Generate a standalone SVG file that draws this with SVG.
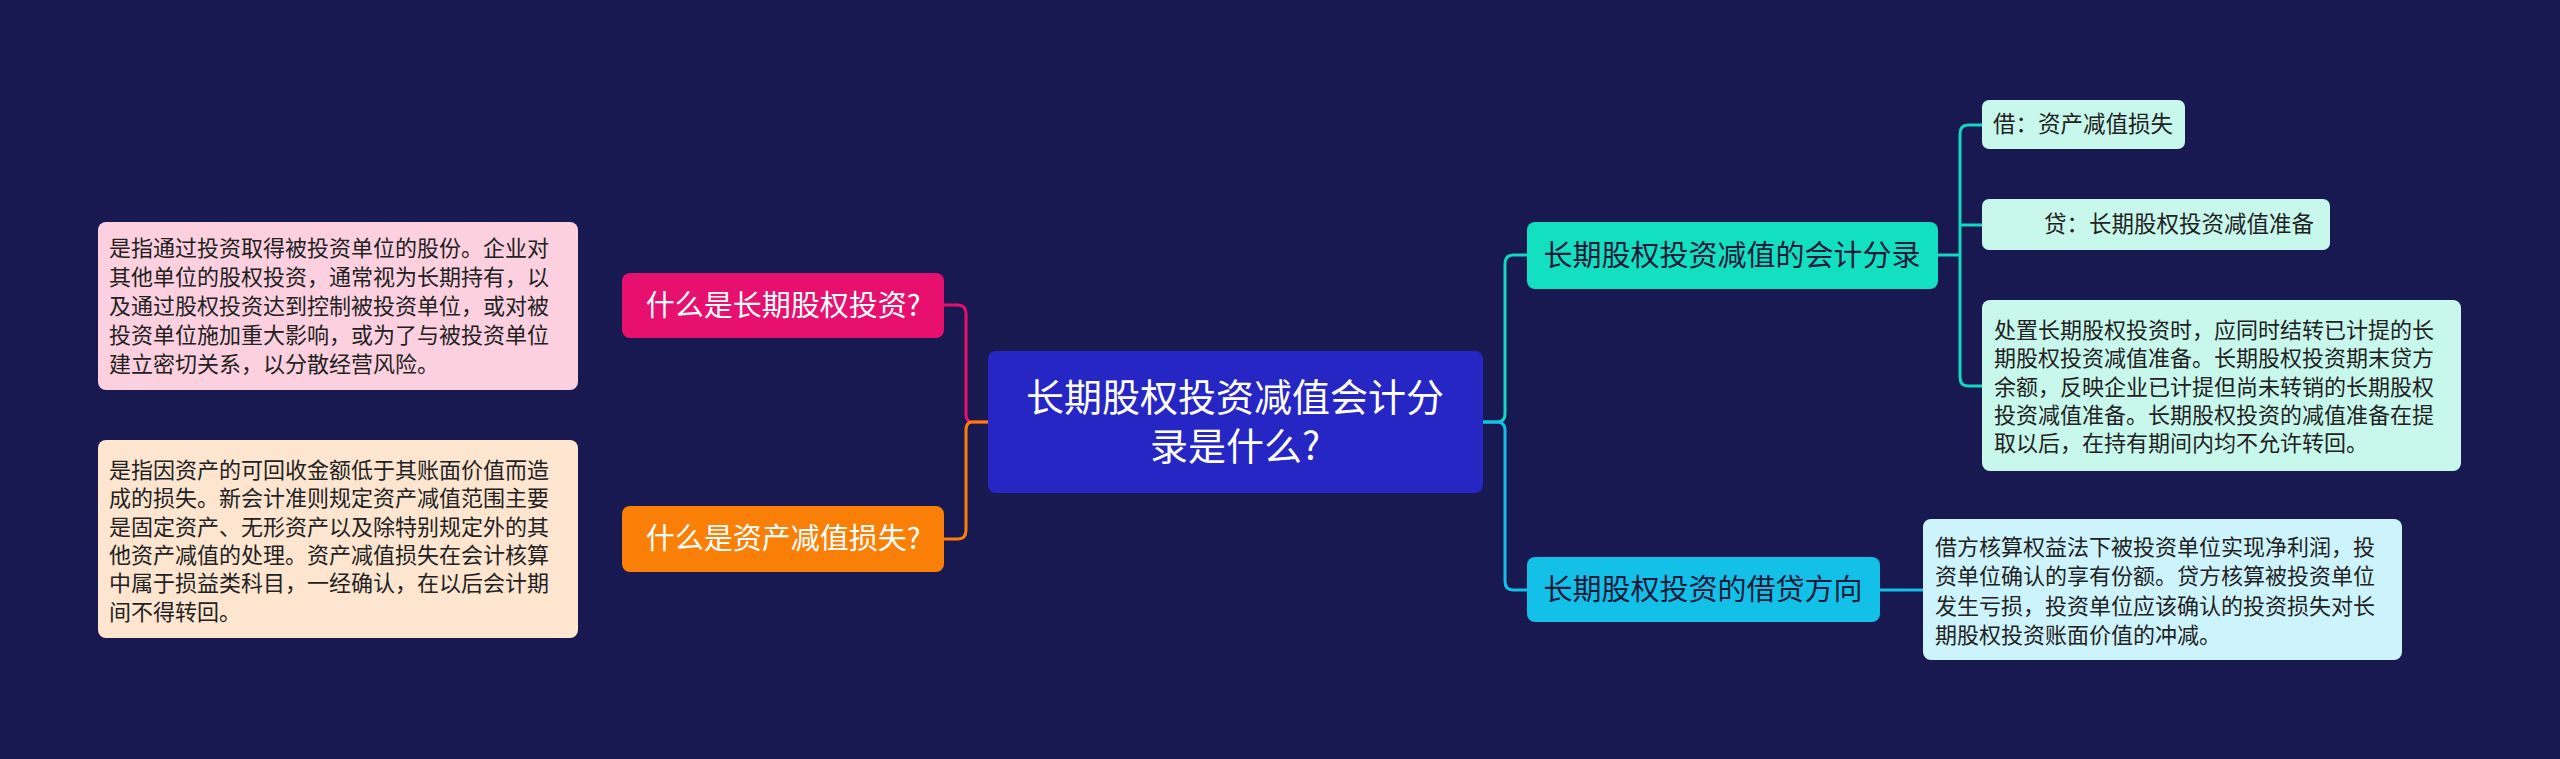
<svg xmlns="http://www.w3.org/2000/svg" width="2560" height="759" viewBox="0 0 2560 759">
<style>
text{font-family:"Noto Sans CJK SC","Noto Sans",sans-serif}
.c{fill:none;stroke-width:3}
.t{font-size:22px;fill:#222}
.l{font-size:29px}
</style>
<rect width="2560" height="759" fill="#191951"/>
<g id="connectors">
<path class="c" stroke="#e8106e" d="M988,422 H972 Q966,422 966,414 V314 Q966,305 958,305 H944"/>
<path class="c" stroke="#f97f06" d="M988,422 H972 Q966,422 966,430 V530 Q966,539 958,539 H944"/>
<path class="c" stroke="#13d8c0" d="M1483,422 H1497 Q1505,422 1505,414 V264 Q1505,255 1513,255 H1527"/>
<path class="c" stroke="#12c0e8" d="M1483,422 H1497 Q1505,422 1505,430 V581 Q1505,590 1513,590 H1527"/>
<path class="c" stroke="#13d8c0" d="M1938,255 H1960 M1960,255 V134 Q1960,125 1968,125 H1982 M1960,225 H1982 M1960,255 V377 Q1960,386 1968,386 H1982"/>
<path class="c" stroke="#12c0e8" d="M1880,590 H1923"/>
</g>
<g id="center">
<rect x="988" y="351" width="495" height="142" rx="8" fill="#2626c4"/>
<text x="1235" y="411" font-size="38" fill="#fff" text-anchor="middle">长期股权投资减值会计分</text>
<text x="1235" y="460" font-size="38" fill="#fff" text-anchor="middle">录是什么?</text>
</g>
<g id="left1">
<rect x="622" y="273" width="322" height="65" rx="8" fill="#e8106e"/>
<text class="l" x="783" y="316" fill="#fff" text-anchor="middle">什么是长期股权投资?</text>
</g>
<g id="left1-detail">
<rect x="98" y="222" width="480" height="168" rx="8" fill="#fdd0e0"/>
<text class="t" x="109" y="256">是指通过投资取得被投资单位的股份。企业对</text>
<text class="t" x="109" y="285">其他单位的股权投资，通常视为长期持有，以</text>
<text class="t" x="109" y="314">及通过股权投资达到控制被投资单位，或对被</text>
<text class="t" x="109" y="343">投资单位施加重大影响，或为了与被投资单位</text>
<text class="t" x="109" y="372">建立密切关系，以分散经营风险。</text>
</g>
<g id="left2">
<rect x="622" y="506" width="322" height="66" rx="8" fill="#f97f06"/>
<text class="l" x="783" y="549" fill="#fff" text-anchor="middle">什么是资产减值损失?</text>
</g>
<g id="left2-detail">
<rect x="98" y="440" width="480" height="198" rx="8" fill="#fde5d0"/>
<text class="t" x="109" y="478">是指因资产的可回收金额低于其账面价值而造</text>
<text class="t" x="109" y="506">成的损失。新会计准则规定资产减值范围主要</text>
<text class="t" x="109" y="535">是固定资产、无形资产以及除特别规定外的其</text>
<text class="t" x="109" y="563">他资产减值的处理。资产减值损失在会计核算</text>
<text class="t" x="109" y="591">中属于损益类科目，一经确认，在以后会计期</text>
<text class="t" x="109" y="620">间不得转回。</text>
</g>
<g id="right1">
<rect x="1527" y="222" width="411" height="67" rx="8" fill="#13e0c0"/>
<text class="l" x="1732" y="266" fill="#1a1a3a" text-anchor="middle">长期股权投资减值的会计分录</text>
</g>
<g id="right1-a">
<rect x="1982" y="100" width="203" height="49" rx="7" fill="#c8f8ec"/>
<text x="2083" y="132" font-size="22.5" fill="#222" text-anchor="middle">借：资产减值损失</text>
</g>
<g id="right1-b">
<rect x="1982" y="199" width="348" height="51" rx="7" fill="#c8f8ec"/>
<text x="2044" y="232" font-size="22.5" fill="#222">贷：长期股权投资减值准备</text>
</g>
<g id="right1-c">
<rect x="1982" y="300" width="479" height="171" rx="8" fill="#c8f8ec"/>
<text class="t" x="1994" y="338">处置长期股权投资时，应同时结转已计提的长</text>
<text class="t" x="1994" y="366">期股权投资减值准备。长期股权投资期末贷方</text>
<text class="t" x="1994" y="395">余额，反映企业已计提但尚未转销的长期股权</text>
<text class="t" x="1994" y="423">投资减值准备。长期股权投资的减值准备在提</text>
<text class="t" x="1994" y="451">取以后，在持有期间内均不允许转回。</text>
</g>
<g id="right2">
<rect x="1527" y="557" width="353" height="65" rx="8" fill="#12c0e8"/>
<text class="l" x="1703" y="600" fill="#1a1a3a" text-anchor="middle">长期股权投资的借贷方向</text>
</g>
<g id="right2-detail">
<rect x="1923" y="519" width="479" height="141" rx="8" fill="#cdf3fc"/>
<text class="t" x="1935" y="555">借方核算权益法下被投资单位实现净利润，投</text>
<text class="t" x="1935" y="584">资单位确认的享有份额。贷方核算被投资单位</text>
<text class="t" x="1935" y="614">发生亏损，投资单位应该确认的投资损失对长</text>
<text class="t" x="1935" y="643">期股权投资账面价值的冲减。</text>
</g>
</svg>
